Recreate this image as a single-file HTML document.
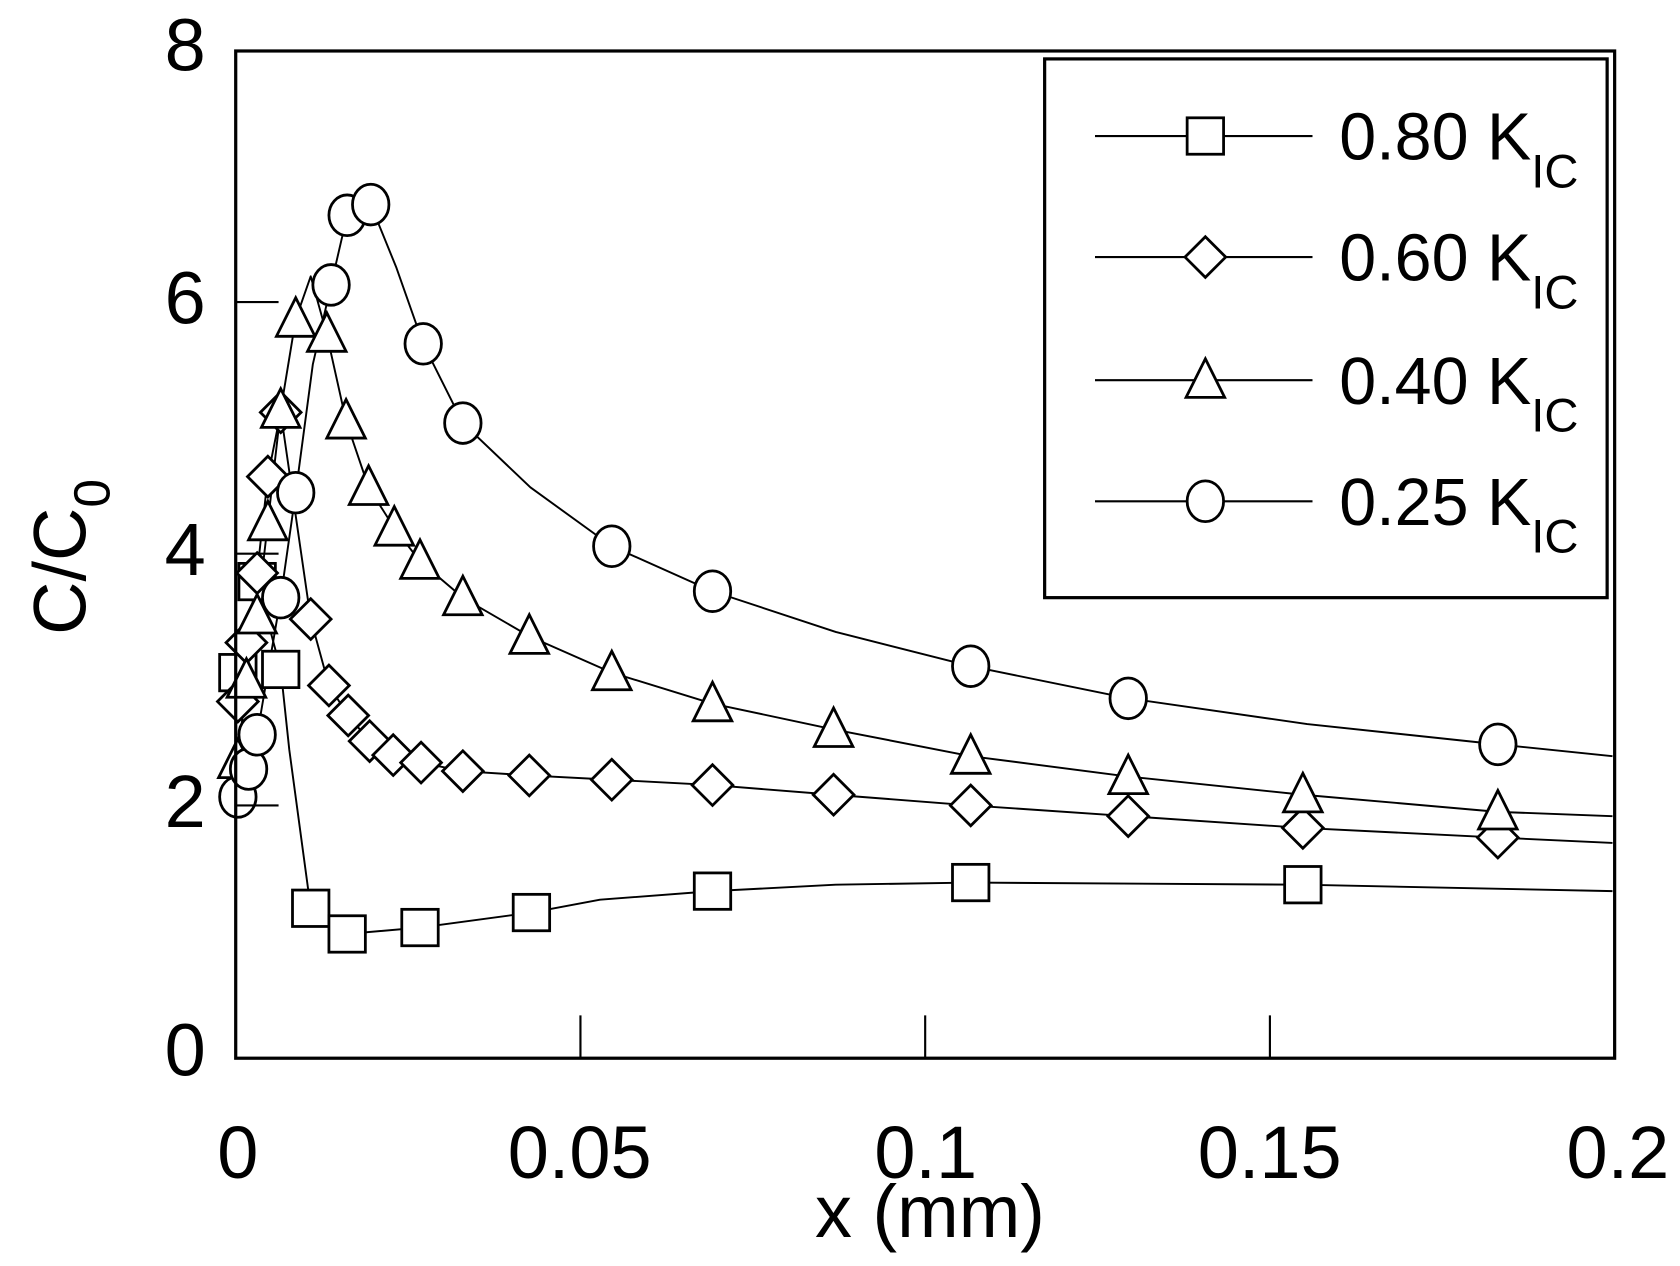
<!DOCTYPE html>
<html><head><meta charset="utf-8"><style>html,body{margin:0;padding:0;background:#fff}svg{display:block}</style></head>
<body>
<svg width="1680" height="1266" viewBox="0 0 1568 1182" preserveAspectRatio="none" xmlns="http://www.w3.org/2000/svg" font-family="Liberation Sans, Arial, sans-serif">
<defs>
<symbol id="sq" overflow="visible"><rect x="-17" y="-17" width="34" height="34" fill="#fff" stroke="#000" stroke-width="2.6"/></symbol>
<symbol id="di" overflow="visible"><polygon points="0,-19 19,0 0,19 -19,0" fill="#fff" stroke="#000" stroke-width="2.6"/></symbol>
<symbol id="tr" overflow="visible"><polygon points="0,-20 18,16 -18,16" fill="#fff" stroke="#000" stroke-width="2.6"/></symbol>
<symbol id="ci" overflow="visible"><ellipse rx="17" ry="19" fill="#fff" stroke="#000" stroke-width="2.6"/></symbol>
</defs>
<g fill="none" stroke="#000" stroke-width="1.8" stroke-linejoin="round">
<polyline points="222,628 240,543 262,625 270,700 290,848 324,872 392,866 496,852 560,840 665,832 780,826 906,824 1216,826 1505,832"/>
<polyline points="222,655 230,600 240,535 250,445 262,385 290,578 307,640 325,668 345,692 367,705 393,712 432,720 494,724 571,728 665,733 778,742 906,752 1053,762 1216,773 1398,782 1505,787"/>
<polyline points="222,710 230,635 240,575 250,488 262,383 276,298 290,258 305,312 323,393 344,455 368,493 392,524 432,558 494,594 571,628 665,657 778,681 906,706 1053,725 1216,742 1398,758 1505,762"/>
<polyline points="222,744 232,718 240,686 262,558 276,460 292,340 309,266 324,201 346,191 370,250 395,321 432,395 495,455 571,510 665,552 780,590 906,622 1053,652 1220,676 1398,695 1505,706"/>
</g>
<g>
<use href="#sq" x="222" y="628"/><use href="#sq" x="240" y="543"/><use href="#sq" x="262" y="625"/><use href="#sq" x="290" y="848"/><use href="#sq" x="324" y="872"/><use href="#sq" x="392" y="866"/><use href="#sq" x="496" y="852"/><use href="#sq" x="665" y="832"/><use href="#sq" x="906" y="824"/><use href="#sq" x="1216" y="826"/>
<use href="#di" x="222" y="655"/><use href="#di" x="230" y="600"/><use href="#di" x="240" y="535"/><use href="#di" x="250" y="445"/><use href="#di" x="262" y="385"/><use href="#di" x="290" y="578"/><use href="#di" x="307" y="640"/><use href="#di" x="325" y="668"/><use href="#di" x="345" y="692"/><use href="#di" x="367" y="705"/><use href="#di" x="393" y="712"/><use href="#di" x="432" y="720"/><use href="#di" x="494" y="724"/><use href="#di" x="571" y="728"/><use href="#di" x="665" y="733"/><use href="#di" x="778" y="742"/><use href="#di" x="906" y="752"/><use href="#di" x="1053" y="762"/><use href="#di" x="1216" y="773"/><use href="#di" x="1398" y="782"/>
<use href="#tr" x="222" y="710"/><use href="#tr" x="230" y="635"/><use href="#tr" x="240" y="575"/><use href="#tr" x="250" y="488"/><use href="#tr" x="262" y="383"/><use href="#tr" x="276" y="298"/><use href="#tr" x="305" y="312"/><use href="#tr" x="323" y="393"/><use href="#tr" x="344" y="455"/><use href="#tr" x="368" y="493"/><use href="#tr" x="392" y="524"/><use href="#tr" x="432" y="558"/><use href="#tr" x="494" y="594"/><use href="#tr" x="571" y="628"/><use href="#tr" x="665" y="657"/><use href="#tr" x="778" y="681"/><use href="#tr" x="906" y="706"/><use href="#tr" x="1053" y="725"/><use href="#tr" x="1216" y="742"/><use href="#tr" x="1398" y="758"/>
<use href="#ci" x="222" y="744"/><use href="#ci" x="232" y="718"/><use href="#ci" x="240" y="686"/><use href="#ci" x="262" y="558"/><use href="#ci" x="276" y="460"/><use href="#ci" x="309" y="266"/><use href="#ci" x="324" y="201"/><use href="#ci" x="346" y="191"/><use href="#ci" x="395" y="321"/><use href="#ci" x="432" y="395"/><use href="#ci" x="571" y="510"/><use href="#ci" x="665" y="552"/><use href="#ci" x="906" y="622"/><use href="#ci" x="1053" y="652"/><use href="#ci" x="1398" y="695"/>
</g>
<g stroke="#000" stroke-width="2" fill="none">
<line x1="220" y1="752" x2="260" y2="752"/><line x1="220" y1="517" x2="260" y2="517"/><line x1="220" y1="282" x2="260" y2="282"/>
<line x1="541.75" y1="988" x2="541.75" y2="948"/><line x1="863.5" y1="988" x2="863.5" y2="948"/><line x1="1185.25" y1="988" x2="1185.25" y2="948"/>
</g>
<rect x="220" y="47.6" width="1287" height="940.4" fill="none" stroke="#000" stroke-width="3"/>
<rect x="975" y="55" width="525" height="503" fill="none" stroke="#000" stroke-width="3"/>
<g stroke="#000" stroke-width="2">
<line x1="1022" y1="127" x2="1225" y2="127"/><line x1="1022" y1="240" x2="1225" y2="240"/><line x1="1022" y1="355" x2="1225" y2="355"/><line x1="1022" y1="468" x2="1225" y2="468"/>
</g>
<use href="#sq" x="1125" y="127"/><use href="#di" x="1125" y="240"/><use href="#tr" x="1125" y="355"/><use href="#ci" x="1125" y="468"/>
<g font-size="62" fill="#000">
<text x="1250" y="149">0.80 K<tspan font-size="44" dy="26">IC</tspan></text>
<text x="1250" y="262">0.60 K<tspan font-size="44" dy="26">IC</tspan></text>
<text x="1250" y="377">0.40 K<tspan font-size="44" dy="26">IC</tspan></text>
<text x="1250" y="490">0.25 K<tspan font-size="44" dy="26">IC</tspan></text>
</g>
<g font-size="69" fill="#000" text-anchor="end">
<text x="192" y="66">8</text><text x="192" y="302">6</text><text x="192" y="537">4</text><text x="192" y="772">2</text><text x="192" y="1004">0</text>
</g>
<g font-size="69" fill="#000" text-anchor="middle">
<text x="222" y="1100">0</text><text x="541" y="1100">0.05</text><text x="864" y="1100">0.1</text><text x="1185" y="1100">0.15</text><text x="1510" y="1100">0.2</text>
<text x="868" y="1155">x (mm)</text>
</g>
<text transform="translate(80,520) rotate(-90)" font-size="69" text-anchor="middle" fill="#000">C/C<tspan font-size="48" dy="22">0</tspan></text>
</svg>
</body></html>
